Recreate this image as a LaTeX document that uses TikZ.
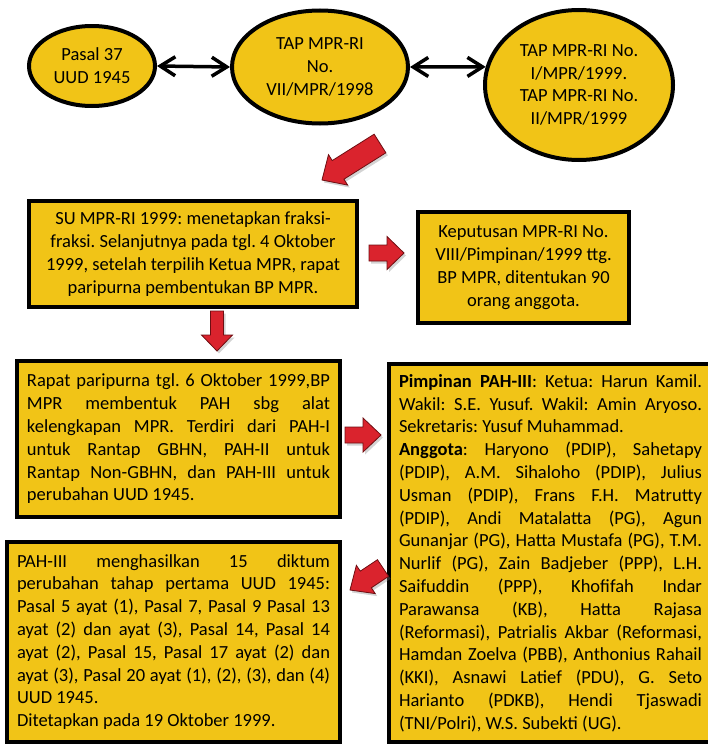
\documentclass[tikz,border=0pt]{standalone}
\usepackage{fontspec}
\setmainfont{Carlito}
\usetikzlibrary{shapes.geometric,arrows.meta,calc,shadows}
\definecolor{gold}{RGB}{241,196,23}
\definecolor{ared}{RGB}{218,35,45}
\definecolor{aredd}{RGB}{110,14,18}
\newcommand\fs{\fontsize{18.5pt}{22.8pt}\selectfont\frenchspacing}
\newcommand\jtext[2]{\parbox{#1}{\fs\parindent=0pt\relax#2}}
\newcommand\jline[1]{\hbox to \linewidth{\spaceskip=0pt plus 1fil\relax #1}}
\newcommand\lline[1]{\hbox to \linewidth{#1\hfil}}
% start, end, shaft half width, head half width, head length
\newcommand\fatarrow[5]{%
  \path[redarrow] ($(#1)!#3!90:(#2)$) -- ($(#2)!#5!(#1)!#3!90:(#2)$) -- ($(#2)!#5!(#1)!#4!90:(#2)$) -- (#2)
    -- ($(#2)!#5!(#1)!#4!-90:(#2)$) -- ($(#2)!#5!(#1)!#3!-90:(#2)$) -- ($(#1)!#3!-90:(#2)$) -- cycle;}
\tikzset{
  ell/.style={ellipse, draw, line width=4pt, fill=gold, inner sep=0pt, align=center, font=\fs},
  box/.style={rectangle, draw, line width=4pt, fill=gold, inner sep=0pt, font=\fs},
  cbox/.style={box, align=center},
  jbox/.style={box},
  dbl/.style={line width=3.5pt, {Straight Barb[length=15pt,width=19pt]}-{Straight Barb[length=15pt,width=19pt]}},
  redarrow/.style={fill=ared, draw=aredd, line width=0.8pt, line join=miter,
    drop shadow={opacity=0.35, shadow xshift=2pt, shadow yshift=-2.5pt}},
}
\begin{document}
\begin{tikzpicture}[x=1pt, y=-1pt]
\useasboundingbox (0,0) rectangle (707,744);

% ellipses
\node[ell, minimum width=126pt, minimum height=80pt] (e1) at (92,66) {Pasal 37\\UUD 1945};
\node[ell, minimum width=176pt, minimum height=113pt] (e2) at (320,67) {TAP MPR-RI\\No.\\VII/MPR/1998};
\node[ell, minimum width=188pt, minimum height=150pt] (e3) at (579,85) {TAP MPR-RI No.\\I/MPR/1999.\\TAP MPR-RI No.\\II/MPR/1999};
\draw[dbl] (e1.east) -- (e2.west);
\draw[dbl] (e2.east) -- (e3.169);

% boxes
\node[cbox, minimum width=328pt, minimum height=106pt] (b1) at (193,254)
  {SU MPR-RI 1999: menetapkan fraksi-\\fraksi. Selanjutnya pada tgl. 4 Oktober\\1999, setelah terpilih Ketua MPR, rapat\\paripurna pembentukan BP MPR.};
\node[cbox, minimum width=211pt, minimum height=111pt] (b2) at (523.5,267.5)
  {Keputusan MPR-RI No.\\VIII/Pimpinan/1999 ttg.\\BP MPR, ditentukan 90\\orang anggota.};
\node[jbox, minimum width=323pt, minimum height=156pt] (b3) at (178.5,439)
  {\jtext{303pt}{%
   \jline{Rapat paripurna tgl. 6 Oktober 1999,BP}
   \jline{MPR membentuk PAH sbg alat}
   \jline{kelengkapan MPR. Terdiri dari PAH-I}
   \jline{untuk Rantap GBHN, PAH-II untuk}
   \jline{Rantap Non-GBHN, dan PAH-III untuk}
   \lline{perubahan UUD 1945.}}};
\node[jbox, minimum width=323pt, minimum height=378pt] (b4) at (550.5,553)
  {\jtext{303pt}{%
   \jline{\textbf{Pimpinan PAH-III}: Ketua: Harun Kamil.}
   \jline{Wakil: S.E. Yusuf. Wakil: Amin Aryoso.}
   \lline{Sekretaris: Yusuf Muhammad.}
   \jline{\textbf{Anggota}: Haryono (PDIP), Sahetapy}
   \jline{(PDIP), A.M. Sihaloho (PDIP), Julius}
   \jline{Usman (PDIP), Frans F.H. Matrutty}
   \jline{(PDIP), Andi Matalatta (PG), Agun}
   \jline{Gunanjar (PG), Hatta Mustafa (PG), T.M.}
   \jline{Nurlif (PG), Zain Badjeber (PPP), L.H.}
   \jline{Saifuddin (PPP), Khofifah Indar}
   \jline{Parawansa (KB), Hatta Rajasa}
   \jline{(Reformasi), Patrialis Akbar (Reformasi,}
   \jline{Hamdan Zoelva (PBB), Anthonius Rahail}
   \jline{(KKI), Asnawi Latief (PDU), G. Seto}
   \jline{Harianto (PDKB), Hendi Tjaswadi}
   \lline{(TNI/Polri), W.S. Subekti (UG).}}};
\node[jbox, minimum width=333pt, minimum height=200pt] (b5) at (173.5,642)
  {\jtext{313pt}{%
   \jline{PAH-III menghasilkan 15 diktum}
   \jline{perubahan tahap pertama UUD 1945:}
   \jline{Pasal 5 ayat (1), Pasal 7, Pasal 9 Pasal 13}
   \jline{ayat (2) dan ayat (3), Pasal 14, Pasal 14}
   \jline{ayat (2), Pasal 15, Pasal 17 ayat (2) dan}
   \jline{ayat (3), Pasal 20 ayat (1), (2), (3), dan (4)}
   \lline{UUD 1945.}
   \lline{Ditetapkan pada 19 Oktober 1999.}}};

% red block arrows
\coordinate (d1s) at (380,143.5);
\coordinate (d1e) at (322,180);
\fatarrow{d1s}{d1e}{11pt}{18pt}{19pt}
\coordinate (a2s) at ($(b1.south)+(24,2)$);
\coordinate (a2e) at ($(b3.north -| a2s)+(0,-8)$);
\fatarrow{a2s}{a2e}{6.5pt}{15.5pt}{16pt}
\coordinate (a3s) at ($(b1.east)+(10,-1)$);
\coordinate (a3e) at ($(b2.west |- a3s)+(-12,0)$);
\fatarrow{a3s}{a3e}{8pt}{16.5pt}{17pt}
\coordinate (a4s) at ($(b3.east)+(3,-4)$);
\coordinate (a4e) at ($(b4.west |- a4s)+(-6,0)$);
\fatarrow{a4s}{a4e}{8pt}{17pt}{18pt}
\coordinate (d2s) at ($(b4.west)+(-4,15)$);
\coordinate (d2e) at ($(b5.east)+(8,-52)$);
\fatarrow{d2s}{d2e}{10pt}{17pt}{19pt}
\end{tikzpicture}
\end{document}
